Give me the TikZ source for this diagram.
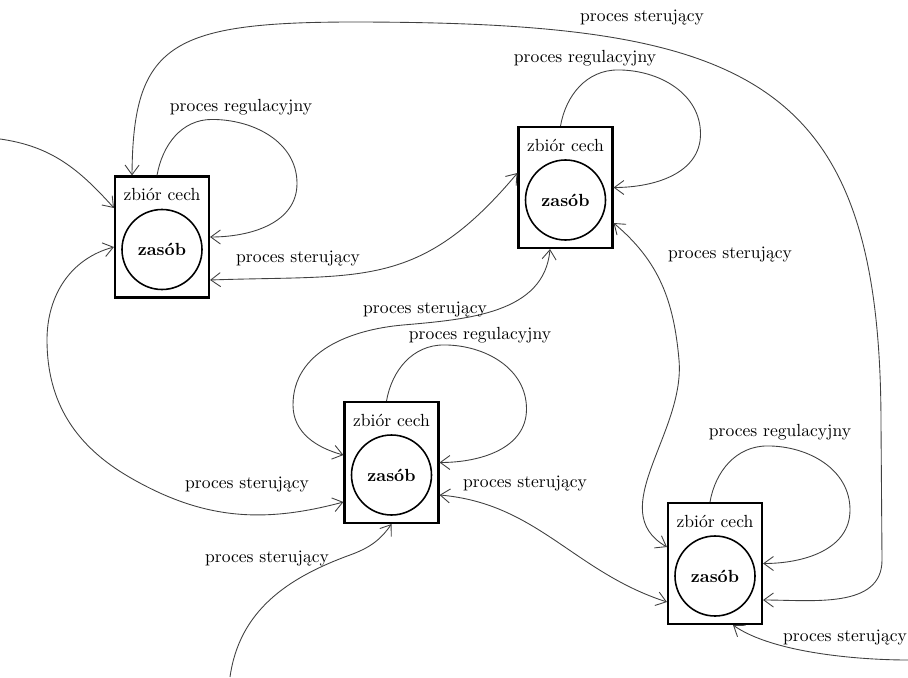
\documentclass[tikz,border=0pt]{standalone}
\usepackage{xcolor}
\usepackage{tikz}
\usetikzlibrary{arrows,arrows.meta,positioning}

\begin{document}
\begin{tikzpicture}[
        >={Straight Barb[length=5.5pt,width=8pt]},
        zbior/.style={draw, line width=1.2pt, minimum width=1.88cm, minimum height=2.42cm, inner sep=0pt},
        zasob/.style={draw, circle, line width=0.9pt, minimum size=1.6cm, inner sep=0pt, font=\bfseries},
        cecha/.style={inner sep=2pt},
        proces/.style={draw=black!75, line width=0.5pt},
        opis/.style={inner sep=1pt}
    ]
        \useasboundingbox (0,0) rectangle (18.16,-13.54);

        % Zbiory cech
        \node[zbior] (z1) at (3.24,-4.74) {};
        \node[zbior] (z2) at (11.31,-3.75) {};
        \node[zbior] (z3) at (7.83,-9.25) {};
        \node[zbior] (z4) at (14.30,-11.27) {};

        \node[cecha, below=0.18cm of z1.north] (c1) {zbiór cech};
        \node[cecha, below=0.18cm of z2.north] (c2) {zbiór cech};
        \node[cecha, below=0.18cm of z3.north] (c3) {zbiór cech};
        \node[cecha, below=0.18cm of z4.north] (c4) {zbiór cech};

        % Zasoby
        \node[zasob] (r1) at ([yshift=-0.25cm]z1.center) {zasób};
        \node[zasob] (r2) at ([yshift=-0.25cm]z2.center) {zasób};
        \node[zasob] (r3) at ([yshift=-0.25cm]z3.center) {zasób};
        \node[zasob] (r4) at ([yshift=-0.25cm]z4.center) {zasób};

        % Wejscia z zewnatrz
        \coordinate (we1) at (0,-2.78);
        \coordinate (we2) at (4.6,-13.54);
        \coordinate (we3) at (18.16,-13.2);

        % Procesy regulacyjne
        \draw[proces, ->] ([xshift=-0.1cm]z1.north) to[out=80,in=180] ++(1.1,1.12) to[out=0,in=90] ++(1.7,-1.28) to[out=-90,in=0] (z1.east);
        \draw[proces, ->] ([xshift=-0.1cm]z2.north) to[out=80,in=180] ++(1.15,1.12) to[out=0,in=90] ++(1.65,-1.28) to[out=-90,in=0] (z2.east);
        \draw[proces, ->] ([xshift=-0.1cm]z3.north) to[out=80,in=180] ++(1.15,1.12) to[out=0,in=90] ++(1.65,-1.28) to[out=-90,in=0] (z3.east);
        \draw[proces, ->] ([xshift=-0.1cm]z4.north) to[out=80,in=180] ++(1.15,1.12) to[out=0,in=90] ++(1.65,-1.28) to[out=-90,in=0] (z4.east);

        % Procesy sterujace
        \draw[proces, ->] (we1) to[out=-8,in=132] ([yshift=0.58cm]z1.west);
        \draw[proces, <->] ([xshift=-0.6cm]z1.north) .. controls (2.66,-0.9) and (3.4,-0.45) .. (7,-0.44)
            .. controls (15,-0.44) and (17.62,-1.5) .. (17.62,-8.5)
            -- (17.64,-11.2) to[out=-90,in=0] ([yshift=-0.73cm]z4.east);
        \draw[proces, <->] ([yshift=-0.86cm]z1.east) to[out=2,in=-130,looseness=1.2] ([yshift=0.29cm]z2.west);
        \draw[proces, <->] ([yshift=-0.2cm]z1.west) to[out=195,in=90] (0.94,-6.8) to[out=-90,in=150] (2.6,-9.55) to[out=-30,in=195] ([yshift=-0.79cm]z3.west);
        \draw[proces, <->] ([xshift=-0.31cm]z2.south) to[out=-95,in=5] (8.06,-6.5) to[out=185,in=90] (5.86,-8.1) to[out=-90,in=165] ([yshift=0.15cm]z3.west);
        \draw[proces, <->] ([yshift=-0.71cm]z2.east) to[out=-40,in=95] (13.58,-7.2) to[out=-85,in=150] ([yshift=0.33cm]z4.west);
        \draw[proces, <->] ([yshift=-0.65cm]z3.east) to[out=-5,in=162] ([yshift=-0.77cm]z4.west);
        \draw[proces, ->] (we2) to[out=82,in=200] (7.0,-11.1) to[out=20,in=-125] (z3.south);
        \draw[proces, ->] (we3) to[out=180,in=-35,looseness=0.7] ([xshift=0.36cm]z4.south);

        % Opisy
        \node[opis] (s1) at (12.84,-0.36) {proces sterujący};
        \node[opis] (s2) at (5.96,-5.18) {proces sterujący};
        \node[opis] (s3) at (14.6,-5.1) {proces sterujący};
        \node[opis] (s4) at (8.5,-6.2) {proces sterujący};
        \node[opis] (s5) at (4.94,-9.7) {proces sterujący};
        \node[opis] (s6) at (10.5,-9.68) {proces sterujący};
        \node[opis] (s7) at (5.34,-11.18) {proces sterujący};
        \node[opis] (s8) at (16.9,-12.76) {proces sterujący};
        \node[opis] (p1) at (4.82,-2.14) {proces regulacyjny};
        \node[opis] (p2) at (11.7,-1.16) {proces regulacyjny};
        \node[opis] (p3) at (9.6,-6.7) {proces regulacyjny};
        \node[opis] (p4) at (15.6,-8.64) {proces regulacyjny};
\end{tikzpicture}
\end{document}
